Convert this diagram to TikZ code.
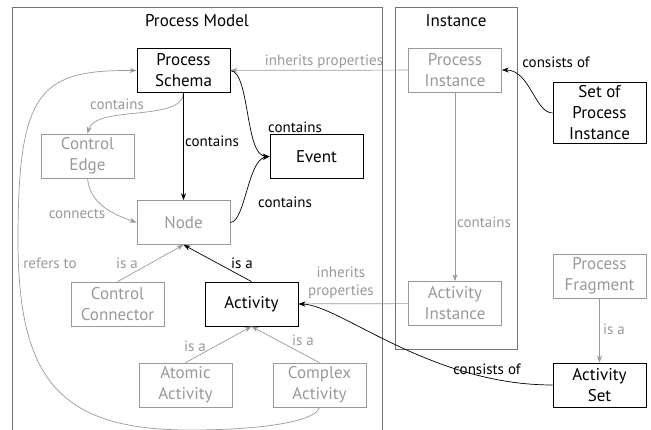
\documentclass[tikz,border=0pt]{standalone}
\usepackage{fontspec}
\setmainfont{PT Sans}
\usetikzlibrary{arrows.meta}
\definecolor{lightgrey}{gray}{0.6}
\definecolor{framegrey}{gray}{0.45}
\newcommand{\BoxFont}{\fontsize{17}{21}\selectfont}
\newcommand{\LabelFont}{\fontsize{15}{18}\selectfont}
\tikzset{
  box/.style={draw, minimum width=93pt, minimum height=44pt, align=center, inner xsep=2pt, inner ysep=3pt, font=\BoxFont},
  blackbox/.style={box, draw=black, line width=0.9pt},
  greybox/.style={box, draw=lightgrey, text=lightgrey, line width=0.7pt},
  lbl/.style={font=\LabelFont, align=center, inner sep=1pt},
  arr/.style={-{Stealth[length=7pt,width=5pt]}, line width=0.7pt},
  greyarr/.style={arr, draw=lightgrey},
}

\begin{document}
\begin{tikzpicture}[x=1pt, y=-1pt]
        \useasboundingbox (0,0) rectangle (651,430);

        % draw frames
        \draw[framegrey, line width=0.8pt] (12,440) -- (12,7) -- (382,7) -- (382,440);
        \draw[framegrey, line width=0.8pt] (395,7) rectangle (517,349);
        \node[font=\BoxFont] (modeltitle) at (197,21) {Process Model};
        \node[font=\BoxFont] (insttitle) at (456,21) {Instance};

        % draw boxes
        \foreach \name/\x/\y/\descr in {schema/183.5/70.5/{Process\\Schema}, event/316.5/156.5/Event, activity/251.5/304/Activity, setpi/599.5/113/{Set of\\Process\\Instance}, actset/599.5/385/{Activity\\Set}}
        \node[blackbox] (\name) at (\x,\y) {\descr};

        \foreach \name/\x/\y/\descr in {cedge/87.5/156/{Control\\Edge}, node/183.5/222.5/Node, cconn/117.5/304/{Control\\Connector}, atomic/185.5/385/{Atomic\\Activity}, complex/319.5/385/{Complex\\Activity}, pinst/455/70/{Process\\Instance}, ainst/455/303.5/{Activity\\Instance}, pfrag/599.5/276/{Process\\Fragment}}
        \node[greybox] (\name) at (\x,\y) {\descr};

        % grey connectors
        \draw[greyarr] (pinst) -- (schema);
        \draw[greyarr] (schema.south) .. controls (183,122) and (95,105) .. (cedge.north);
        \draw[greyarr] (cedge.south) .. controls (90,205) and (115,215) .. (node.west);
        \draw[greyarr] (cconn.north) -- (node.south);
        \draw[greyarr] (atomic.north) -- (activity.south);
        \draw[greyarr] (complex.north) -- (activity.south);
        \draw[greyarr] (ainst) -- (activity);
        \draw[greyarr] (pinst) -- (ainst);
        \draw[greyarr] (pfrag) -- (actset);
        \draw[greyarr] (complex.south) .. controls (315,422) and (260,430) .. (190,430)
            .. controls (60,430) and (18,380) .. (18,240)
            .. controls (18,90) and (40,70) .. (schema.west);

        % black connectors
        \draw[arr] (schema) -- (node);
        \draw[arr] (schema.east) .. controls (250,72) and (245,155) .. (event.west);
        \draw[arr] (node.east) .. controls (245,222) and (248,160) .. (event.west);
        \draw[arr] (activity.north) -- (node.south);
        \draw[arr] (setpi.west) .. controls (535,113) and (530,70) .. (pinst.east);
        \draw[arr] (actset.west) .. controls (430,385) and (340,305) .. (activity.east);

        % labels
        \foreach \x/\y/\descr [count=\i] in {324/62/inherits properties, 117/104/contains, 77/214/connects, 127/263/is a, 50/263/refers to, 195/346/is a, 303/340/is a, 341/283/{inherits\\properties}, 484/222/contains, 614/329/is a}
        \node[lbl, text=lightgrey] (greylbl\i) at (\x,\y) {\descr};

        \foreach \x/\y/\descr [count=\i] in {212/141/contains, 295/127/contains, 285/202/contains, 242/263/is a, 556/62/consists of, 487/369/consists of}
        \node[lbl] (blacklbl\i) at (\x,\y) {\descr};
    \end{tikzpicture}
\end{document}
